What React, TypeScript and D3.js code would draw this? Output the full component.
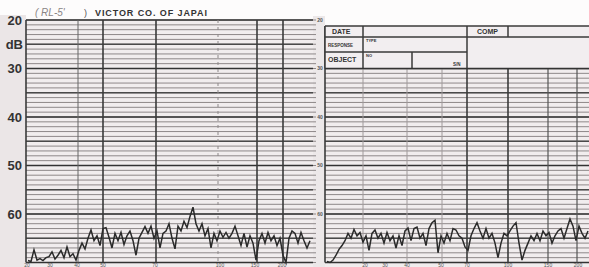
import React from 'react';
import * as d3 from 'd3';

// ---- data ----
const dbLabels = [20, 30, 40, 50, 60];
const dbMajor = [20, 25, 30, 35, 40, 45, 50, 55, 60, 65, 70];
const stripLabels = ['20', '30', '40', '50', '60'];
const stripLabelDb = [20, 30, 40, 50, 60];

// vertical grid positions (paper units from panel left edge)
const leftBoldLines = [0, 77, 130, 231, 257];
const leftThinLines = [52];
const leftFaintLines = [192];
const rightBoldLines = [0, 142, 183];
const rightMidLines = [223, 252];
const rightFaintLines = [38, 82, 117];

const leftBottomLabels = ['20', '30', '40', '50', '70', '100', '150', '200'];
const leftBottomPos = [1, 24, 51, 77, 129, 194, 229, 256];
const rightBottomLabels = ['20', '30', '40', '50', '70', '100', '150', '200'];
const rightBottomPos = [40, 60, 82, 116, 142, 183, 223, 253];

// recorded trace (dB), left sheet, sampled every 3 units from unit 2
const leftStart = 2;
const leftTrace = [
  69.6, 69.8, 67.4, 69.5, 69.2, 69.6, 69.0, 68.8, 67.8, 69.3,
  68.5, 67.5, 69.0, 66.8, 68.8, 68.2, 69.5, 67.5, 66.0, 67.2,
  65.0, 63.3, 65.5, 64.5, 66.5, 63.0, 62.8, 64.8, 67.0, 64.0,
  65.5, 63.8, 66.3, 64.5, 63.5, 65.5, 68.5, 65.0, 63.8, 62.6,
  64.0, 62.5, 65.0, 63.5, 67.0, 64.0, 63.5, 62.0, 65.0, 67.2,
  62.5, 63.5, 61.5, 62.8, 60.5, 58.6, 62.0, 63.5, 62.0, 64.5,
  63.0, 67.0, 64.0, 65.5, 63.5, 64.8, 63.8, 65.0, 64.0, 62.5,
  64.5, 66.5, 64.0, 66.8, 64.5, 66.0, 69.5, 65.5, 64.0, 66.0,
  63.8, 65.5, 64.5, 66.5, 65.0, 68.5, 70.0, 65.0, 63.5, 64.0,
  66.0, 63.8, 65.5, 67.0, 65.5,
];

// recorded trace (dB), right sheet, sampled every 3 units from unit 2
const rightStart = 2;
const rightTrace = [
  69.8, 70.0, 69.5, 68.5, 67.3, 66.5, 65.5, 64.0, 65.0, 63.2,
  64.5, 63.8, 65.8, 64.5, 67.5, 64.0, 63.3, 65.0, 64.0, 66.0,
  63.8, 65.5, 64.5, 67.0, 64.5, 66.5, 63.5, 62.9, 65.5, 63.0,
  62.7, 65.0, 64.0, 66.5, 63.0, 61.8, 61.3, 68.0, 64.5, 66.0,
  64.0, 65.5, 63.0, 63.3, 64.5, 65.0, 66.8, 67.5, 64.5, 63.0,
  61.8, 63.5, 65.0, 63.0, 65.0, 64.0, 66.0, 69.0, 66.0, 64.0,
  64.5, 63.5, 62.5, 61.8, 66.0, 69.5, 67.5, 66.0, 64.5, 65.5,
  64.0, 65.5, 63.5, 64.5, 63.8, 66.0, 64.5, 63.5, 63.0, 65.0,
  63.0, 61.0, 62.5, 65.5, 62.5, 64.0, 65.0, 63.5,
];
const step = 3;

export default function App() {
  const W = 589;
  const H = 267;
  const y = d3.scaleLinear().domain([20, 70]).range([20, 262.5]);
  const xL = d3.scaleLinear().domain([0, 287]).range([26, 313]);
  const xR = d3.scaleLinear().domain([0, 264]).range([325, 589]);
  const dbMinor = d3.range(20, 71);

  const lineL = d3
    .line<number>()
    .x((_, i) => xL(leftStart + i * step))
    .y((d) => y(d));
  const lineR = d3
    .line<number>()
    .x((_, i) => xR(rightStart + i * step))
    .y((d) => y(d));

  const hdrTop = 26;
  const hdrR1 = 37;
  const hdrR2 = 52;
  const hdrBot = y(30);

  const ink = '#3a3a3a';
  const minor = '#8e8889';
  const font = 'Liberation Sans, Arial, sans-serif';

  return (
    <svg
      width={W}
      height={H}
      style={{ position: 'absolute', left: 0, top: 0, background: '#fdfcfc' }}
    >
      {/* paper backgrounds */}
      <rect x={0} y={15} width={26} height={H - 15} fill="#ebe6e7" />
      <rect x={26} y={y(20)} width={287} height={H - y(20)} fill="#f1edee" />
      <rect x={313} y={y(20) - 4} width={12} height={H} fill="#ece8e9" />
      <rect x={325} y={hdrTop} width={264} height={H - hdrTop} fill="#f1edee" />

      {/* title */}
      <text x={35} y={16} fontFamily={font} fontSize={10} fontStyle="italic" fill="#8a8585">
        ( RL-5'
      </text>
      <text x={84} y={16} fontFamily={font} fontSize={9} fill="#555">
        )
      </text>
      <text
        x={95}
        y={16}
        fontFamily={font}
        fontSize={9}
        fontWeight="bold"
        fill="#333"
        textLength={112}
        lengthAdjust="spacing"
      >
        VICTOR CO. OF JAPAI
      </text>

      {/* left sheet horizontal grid */}
      {dbMinor.map((d) => (
        <line key={'lm' + d} x1={26} x2={316} y1={y(d)} y2={y(d)} stroke={minor} strokeWidth={1} />
      ))}
      {dbMajor.map((d) => (
        <line
          key={'lM' + d}
          x1={26}
          x2={313}
          y1={y(d)}
          y2={y(d)}
          stroke={d % 10 === 0 ? '#333' : '#4a4a4a'}
          strokeWidth={d % 10 === 0 ? 1.7 : 1.3}
        />
      ))}
      {/* left sheet vertical grid */}
      {leftFaintLines.map((p) => (
        <line key={'lf' + p} x1={xL(p)} x2={xL(p)} y1={y(20)} y2={y(70)} stroke="#8d8889" strokeWidth={1} strokeDasharray="3 4" />
      ))}
      {leftThinLines.map((p) => (
        <line key={'lt' + p} x1={xL(p)} x2={xL(p)} y1={y(20)} y2={y(70)} stroke="#666" strokeWidth={1} />
      ))}
      {leftBoldLines.map((p) => (
        <line key={'lb' + p} x1={xL(p)} x2={xL(p)} y1={y(20)} y2={y(70)} stroke={ink} strokeWidth={1.6} />
      ))}

      {/* left margin labels */}
      {dbLabels.map((d) => (
        <text
          key={'dl' + d}
          x={22}
          y={y(d)}
          dy="0.36em"
          textAnchor="end"
          fontFamily={font}
          fontSize={13}
          fontWeight="bold"
          fill="#333"
        >
          {d}
        </text>
      ))}
      <text x={23} y={y(25)} dy="0.36em" textAnchor="end" fontFamily={font} fontSize={13} fontWeight="bold" fill="#333">
        dB
      </text>

      {/* strip labels */}
      {stripLabels.map((t, i) => (
        <text
          key={'sl' + t}
          x={320}
          y={y(stripLabelDb[i])}
          dy="0.36em"
          textAnchor="middle"
          fontFamily={font}
          fontSize={5}
          fontWeight="bold"
          fill="#555"
        >
          {t}
        </text>
      ))}

      {/* right sheet horizontal grid */}
      {dbMinor
        .filter((d) => d >= 30)
        .map((d) => (
          <line key={'rm' + d} x1={325} x2={589} y1={y(d)} y2={y(d)} stroke={minor} strokeWidth={1} />
        ))}
      {dbMajor
        .filter((d) => d >= 30)
        .map((d) => (
          <line
            key={'rM' + d}
            x1={325}
            x2={589}
            y1={y(d)}
            y2={y(d)}
            stroke={d % 10 === 0 ? '#333' : '#4a4a4a'}
            strokeWidth={d % 10 === 0 ? 1.7 : 1.3}
          />
        ))}
      {rightFaintLines.map((p) => (
        <line key={'rf' + p} x1={xR(p)} x2={xR(p)} y1={y(30)} y2={y(70)} stroke="#a09a9b" strokeWidth={1} />
      ))}
      {rightMidLines.map((p) => (
        <line key={'rmid' + p} x1={xR(p)} x2={xR(p)} y1={y(30)} y2={y(70)} stroke="#555" strokeWidth={1.2} />
      ))}
      {rightBoldLines.map((p) => (
        <line key={'rb' + p} x1={xR(p)} x2={xR(p)} y1={hdrTop} y2={y(70)} stroke={ink} strokeWidth={1.6} />
      ))}

      {/* header form */}
      <rect x={325} y={hdrTop} width={264} height={hdrBot - hdrTop} fill="#f2eef0" />
      <g stroke={ink} strokeWidth={1.5} fill="none">
        <line x1={325} x2={589} y1={hdrTop} y2={hdrTop} />
        <line x1={325} x2={589} y1={hdrR1} y2={hdrR1} />
        <line x1={325} x2={467} y1={hdrR2} y2={hdrR2} />
        <line x1={325} x2={325} y1={hdrTop} y2={hdrBot} />
        <line x1={363} x2={363} y1={hdrTop} y2={hdrBot} />
        <line x1={467} x2={467} y1={hdrTop} y2={hdrBot} />
        <line x1={508} x2={508} y1={hdrTop} y2={hdrR1} />
        <line x1={412} x2={412} y1={hdrR2} y2={hdrBot} />
        <line x1={325} x2={589} y1={hdrBot} y2={hdrBot} strokeWidth={1.7} stroke="#333" />
      </g>
      <g fontFamily={font} fontWeight="bold" fill="#333">
        <text x={332} y={34} fontSize={7}>DATE</text>
        <text x={477} y={34} fontSize={7}>COMP</text>
        <text x={328} y={47} fontSize={4.5}>RESPONSE</text>
        <text x={328} y={62} fontSize={7}>OBJECT</text>
        <text x={366} y={42} fontSize={4}>TYPE</text>
        <text x={366} y={57} fontSize={4}>NO</text>
        <text x={453} y={66} fontSize={4.5}>S/N</text>
      </g>

      {/* bottom labels at sheet edge */}
      {leftBottomLabels.map((t, i) => (
        <text key={'lbl' + i} x={xL(leftBottomPos[i])} y={266.5} textAnchor="middle" fontFamily={font} fontSize={5} fill="#555">
          {t}
        </text>
      ))}
      {rightBottomLabels.map((t, i) => (
        <text key={'rbl' + i} x={xR(rightBottomPos[i])} y={266.5} textAnchor="middle" fontFamily={font} fontSize={5} fill="#555">
          {t}
        </text>
      ))}

      {/* recorded traces */}
      <path d={lineL(leftTrace) || ''} fill="none" stroke="#2a2a2a" strokeWidth={1.5} strokeLinejoin="miter" />
      <path d={lineR(rightTrace) || ''} fill="none" stroke="#2a2a2a" strokeWidth={1.5} strokeLinejoin="miter" />
    </svg>
  );
}
